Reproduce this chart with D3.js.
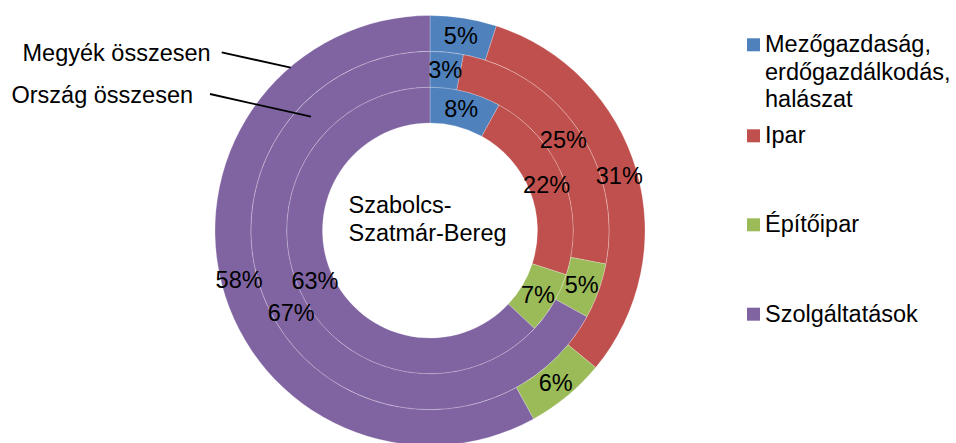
<!DOCTYPE html>
<html>
<head>
<meta charset="utf-8">
<script src="https://cdn.jsdelivr.net/npm/d3@7"></script>
<style>
  body { margin: 0; background: #fff; }
  svg text { font-family: Arial, "Liberation Sans", sans-serif; fill: #000; }
</style>
</head>
<body>
<div id="chart"></div>
<script>
// ágazatok (legend order)
const categories = ["Mezőgazdaság, erdőgazdálkodás, halászat", "Ipar", "Építőipar", "Szolgáltatások"];
const legendLines = [["Mezőgazdaság,", "erdőgazdálkodás,", "halászat"], ["Ipar"], ["Építőipar"], ["Szolgáltatások"]];
const colors = ["#4F81BD", "#C0504D", "#9BBB59", "#8064A2"];

// series, inner ring -> outer ring
const seriesNames = ["Szabolcs-Szatmár-Bereg", "Ország összesen", "Megyék összesen"];
const szabolcs = [8, 22, 7, 63];
const orszag = [3, 25, 5, 67];
const megyek = [5, 31, 6, 58];
const rings = [szabolcs, orszag, megyek];

const width = 956, height = 443;
const cx = 430, cy = 230.5;
const holeR = 107.5, outerR = 215;
const fontSize = 23.5;

const svg = d3.select("#chart").append("svg")
    .attr("width", width)
    .attr("height", height);

const g = svg.append("g").attr("transform", `translate(${cx},${cy})`);

// gyűrűk sugarai
const ringScale = d3.scaleLinear().domain([0, rings.length]).range([holeR, outerR]);

const pie = d3.pie().sort(null).value(d => d);

const ringData = rings.map((vals, i) => ({
  arc: d3.arc().innerRadius(ringScale(i)).outerRadius(ringScale(i + 1)),
  arcs: pie(vals)
}));

// először a szeletek
const slices = g.append("g");
ringData.forEach(r => {
  slices.append("g").selectAll("path")
      .data(r.arcs)
      .enter()
      .append("path")
      .attr("d", r.arc)
      .attr("fill", (d, j) => colors[j])
      .attr("stroke", "#fff")
      .attr("stroke-opacity", 0.45)
      .attr("stroke-width", 0.5);
});

// aztán a címkék, hogy ne takarják el őket
const labels = g.append("g");
ringData.forEach(r => {
  labels.append("g").selectAll("text")
      .data(r.arcs)
      .enter()
      .append("text")
      .attr("transform", d => `translate(${r.arc.centroid(d)})`)
      .attr("text-anchor", "middle")
      .attr("dy", "0.35em")
      .style("font-size", fontSize + "px")
      .text(d => d.value + "%");
});

// középső felirat
const center = svg.append("text")
    .attr("x", 348.5)
    .attr("y", 213.3)
    .style("font-size", fontSize + "px");
center.append("tspan").attr("x", 348.5).text("Szabolcs-");
center.append("tspan").attr("x", 348.5).attr("dy", 27.8).text("Szatmár-Bereg");

// sorozat feliratok vezetővonallal
const callouts = [
  { name: seriesNames[2], x: 22.5, y: 60.7, line: [[221.7, 52.3], [290.7, 67.7]] },
  { name: seriesNames[1], x: 11.5, y: 103.3, line: [[210, 94], [311, 116.7]] }
];
callouts.forEach(c => {
  svg.append("text")
      .attr("x", c.x)
      .attr("y", c.y)
      .style("font-size", fontSize + "px")
      .text(c.name);
  svg.append("line")
      .attr("x1", c.line[0][0]).attr("y1", c.line[0][1])
      .attr("x2", c.line[1][0]).attr("y2", c.line[1][1])
      .attr("stroke", "#000")
      .attr("stroke-width", 1.8);
});

// jelmagyarázat
const legendY = [52.3, 143.3, 232.3, 321.7];
const legend = svg.append("g").attr("class", "legend");
categories.forEach((cat, i) => {
  const item = legend.append("g");
  item.append("rect")
      .attr("x", 747)
      .attr("y", legendY[i] - 14)
      .attr("width", 13)
      .attr("height", 13)
      .attr("fill", colors[i]);
  const t = item.append("text")
      .attr("x", 765)
      .attr("y", legendY[i])
      .style("font-size", fontSize + "px");
  legendLines[i].forEach((ln, k) => {
    t.append("tspan").attr("x", 765).attr("dy", k === 0 ? 0 : 27.5).text(ln);
  });
});
</script>
</body>
</html>
